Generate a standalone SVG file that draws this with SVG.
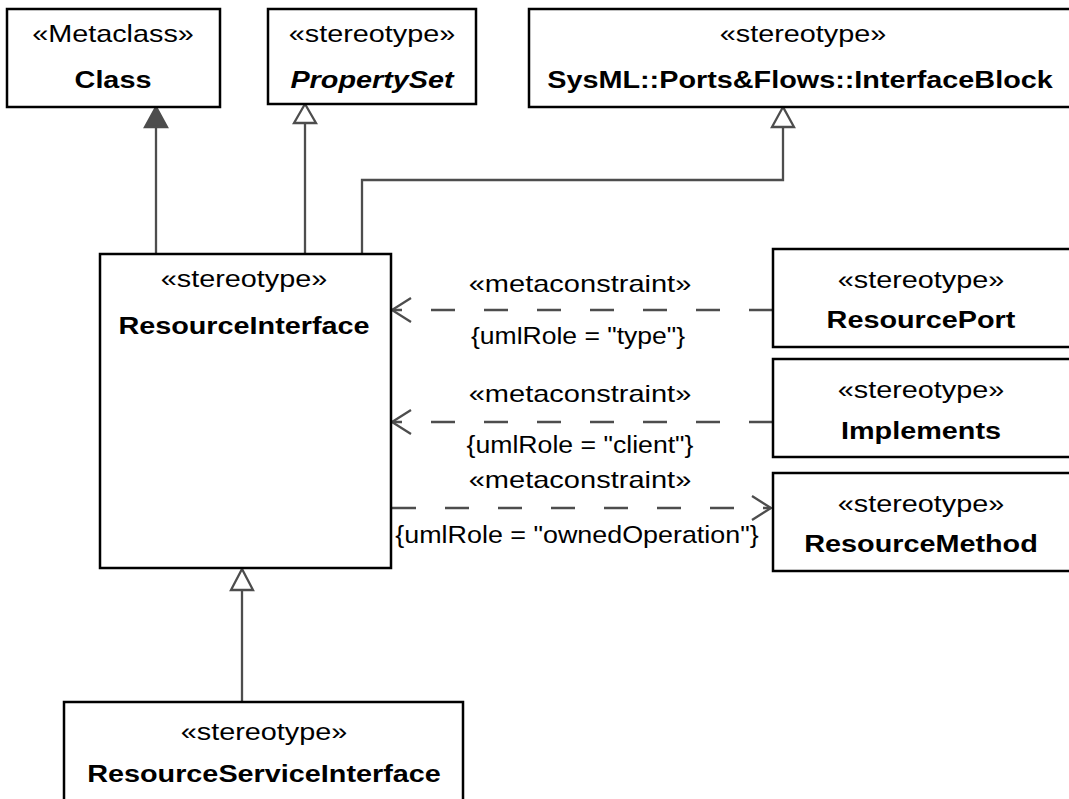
<svg xmlns="http://www.w3.org/2000/svg" width="1069" height="799" viewBox="0 0 1069 799">
<style>
.box{fill:#fff;stroke:#000;stroke-width:2.5}
.st{font-family:"Liberation Sans",Arial,sans-serif;font-size:24px;text-anchor:middle;fill:#000}
.nm{font-family:"Liberation Sans",Arial,sans-serif;font-size:24px;font-weight:bold;text-anchor:middle;fill:#000}
.it{font-style:italic}
.ln{fill:none;stroke:#4d4d4d;stroke-width:2.3}
.dash{fill:none;stroke:#4d4d4d;stroke-width:2.3;stroke-dasharray:24 29}
.hollow{fill:#fff;stroke:#4d4d4d;stroke-width:2.3}
.filled{fill:#4d4d4d;stroke:#4d4d4d;stroke-width:2.3}
.lbl{font-family:"Liberation Sans",Arial,sans-serif;font-size:24px;text-anchor:middle;fill:#000}
</style>
<rect width="1069" height="799" fill="#fff"/>
<g id="connectors">
  <line class="ln" x1="156" y1="254" x2="156" y2="127"/>
  <polygon class="filled" points="156,107 145,127 167,127"/>
  <line class="ln" x1="305" y1="254" x2="305" y2="123"/>
  <polygon class="hollow" points="305,104 294,123 316,123"/>
  <polyline class="ln" points="362,254 362,180 783,180 783,127"/>
  <polygon class="hollow" points="783,107 772,127 794,127"/>
  <line class="dash" x1="773" y1="310" x2="392" y2="310"/>
  <polyline class="ln" points="411,298 392,310 411,322"/>
  <text class="lbl" transform="matrix(1.21 0 0 1 580 292)">«metaconstraint»</text>
  <text class="lbl" transform="matrix(1.105 0 0 1 578 344)">{umlRole = "type"}</text>
  <line class="dash" x1="773" y1="422" x2="392" y2="422"/>
  <polyline class="ln" points="411,410 392,422 411,434"/>
  <text class="lbl" transform="matrix(1.21 0 0 1 580 402)">«metaconstraint»</text>
  <text class="lbl" transform="matrix(1.11 0 0 1 580 453)">{umlRole = "client"}</text>
  <line class="dash" x1="392" y1="508" x2="771" y2="508"/>
  <polyline class="ln" points="752,496 771,508 752,520"/>
  <text class="lbl" transform="matrix(1.21 0 0 1 580 488)">«metaconstraint»</text>
  <text class="lbl" transform="matrix(1.12 0 0 1 577 543)">{umlRole = "ownedOperation"}</text>
  <line class="ln" x1="242" y1="702" x2="242" y2="590"/>
  <polygon class="hollow" points="242,569 231,590 253,590"/>
</g>
<g id="class">
  <rect class="box" x="7" y="9" width="213" height="98"/>
  <text class="st" transform="matrix(1.2 0 0 1 113 42)">«Metaclass»</text>
  <text class="nm" transform="matrix(1.2 0 0 1 113 88)">Class</text>
</g>
<g id="propertyset">
  <rect class="box" x="268" y="9" width="208" height="95"/>
  <text class="st" transform="matrix(1.2 0 0 1 372 42)">«stereotype»</text>
  <text class="nm it" transform="matrix(1.2 0 0 1 372 88)">PropertySet</text>
</g>
<g id="interfaceblock">
  <rect class="box" x="529" y="9" width="545" height="98"/>
  <text class="st" transform="matrix(1.2 0 0 1 803 42)">«stereotype»</text>
  <text class="nm" transform="matrix(1.2 0 0 1 800 88)">SysML::Ports&amp;Flows::InterfaceBlock</text>
</g>
<g id="resourceinterface">
  <rect class="box" x="100" y="254" width="291" height="314"/>
  <text class="st" transform="matrix(1.2 0 0 1 244 287)">«stereotype»</text>
  <text class="nm" transform="matrix(1.2 0 0 1 244 334)">ResourceInterface</text>
</g>
<g id="resourceport">
  <rect class="box" x="773" y="249" width="302" height="98"/>
  <text class="st" transform="matrix(1.2 0 0 1 921 288)">«stereotype»</text>
  <text class="nm" transform="matrix(1.2 0 0 1 921 328)">ResourcePort</text>
</g>
<g id="implements">
  <rect class="box" x="773" y="359" width="302" height="98"/>
  <text class="st" transform="matrix(1.2 0 0 1 921 398)">«stereotype»</text>
  <text class="nm" transform="matrix(1.2 0 0 1 921 439)">Implements</text>
</g>
<g id="resourcemethod">
  <rect class="box" x="773" y="473" width="302" height="98"/>
  <text class="st" transform="matrix(1.2 0 0 1 921 512)">«stereotype»</text>
  <text class="nm" transform="matrix(1.2 0 0 1 921 552)">ResourceMethod</text>
</g>
<g id="resourceserviceinterface">
  <rect class="box" x="64" y="702" width="399" height="110"/>
  <text class="st" transform="matrix(1.2 0 0 1 264 740)">«stereotype»</text>
  <text class="nm" transform="matrix(1.2 0 0 1 264 782)">ResourceServiceInterface</text>
</g>
</svg>
